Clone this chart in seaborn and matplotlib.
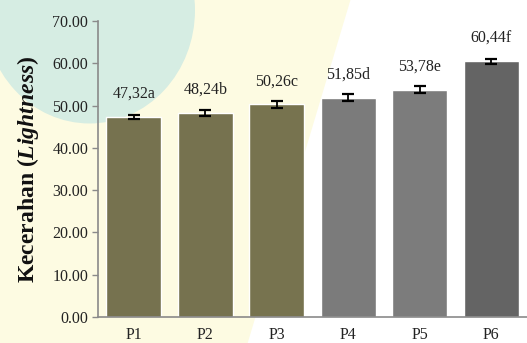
import matplotlib
matplotlib.use("Agg")
import matplotlib.pyplot as plt
from matplotlib.patches import Polygon, Ellipse
import seaborn as sns
import pandas as pd

# Lightness values per treatment
treatments = ["P1", "P2", "P3", "P4", "P5", "P6"]
lightness = [47.32, 48.24, 50.26, 51.85, 53.78, 60.44]
errors = [0.5, 0.6, 0.8, 0.8, 0.8, 0.5]
letters = ["a", "b", "c", "d", "e", "f"]
bar_colors = ["#76724f", "#76724f", "#77734f", "#7b7b7b", "#7c7c7c", "#646464"]
yticks = [0, 10, 20, 30, 40, 50, 60, 70]

df = pd.DataFrame({"Perlakuan": treatments, "L": lightness})

sns.set_theme(style="white")
plt.rcParams["font.family"] = ["Liberation Serif", "DejaVu Serif"]
plt.rcParams["mathtext.fontset"] = "custom"
plt.rcParams["mathtext.rm"] = "Liberation Serif"
plt.rcParams["mathtext.it"] = "Liberation Serif:italic"
plt.rcParams["mathtext.bf"] = "Liberation Serif:bold"
plt.rcParams["mathtext.bfit"] = "Liberation Serif:bold:italic"

fig = plt.figure(figsize=(5.27, 3.43), dpi=100)
fig.patch.set_facecolor("white")

# pale background tint on the left part of the figure
fig.patches.append(Polygon([[0, 0], [0, 1], [0.665, 1], [0.47, 0]], closed=True,
                           transform=fig.transFigure, facecolor="#fdfbe2",
                           edgecolor="none", zorder=-10))
fig.patches.append(Ellipse((0.17, 0.97), 0.40, 0.66, transform=fig.transFigure,
                           facecolor="#d6ede3", edgecolor="none", zorder=-9))

ax = fig.add_axes([98 / 527, 1 - 317 / 343, 429 / 527, 296 / 343])
ax.set_facecolor("none")

sns.barplot(data=df, x="Perlakuan", y="L", hue="Perlakuan", palette=bar_colors,
            legend=False, errorbar=None, width=0.77, saturation=1, ax=ax)

ax.errorbar(range(len(treatments)), lightness, yerr=errors, fmt="none",
            ecolor="black", elinewidth=1.3, capsize=4.5, capthick=1.6, zorder=5)

for i, (v, l) in enumerate(zip(lightness, letters)):
    ax.text(i, v + 3.6, f"{v:.2f}".replace(".", ",") + l, ha="center", va="bottom",
            fontsize=11.5, color="#222222")

ax.set_ylim(0, 70)
ax.set_xlim(-0.5, 5.5)
ax.set_yticks(yticks)
ax.set_yticklabels([f"{t:.2f}" for t in yticks], fontsize=11.5, color="#222222")
ax.tick_params(axis="x", labelsize=11.5, colors="#222222", length=0, pad=7)
ax.tick_params(axis="y", length=4, width=1, color="#8a8a8a", direction="out", pad=3,
               left=True)
for lbl in ax.get_xticklabels():
    lbl.set_color("#222222")

for s in ["top", "right"]:
    ax.spines[s].set_visible(False)
for s in ["left", "bottom"]:
    ax.spines[s].set_color("#8a8a8a")
    ax.spines[s].set_linewidth(1.2)

ax.set_xlabel("")
ax.set_ylabel(r"Kecerahan ($\mathbfit{Lightness}$)", fontsize=17,
              fontweight="bold", color="#111111", labelpad=8)

fig.savefig("out.png", dpi=100)
